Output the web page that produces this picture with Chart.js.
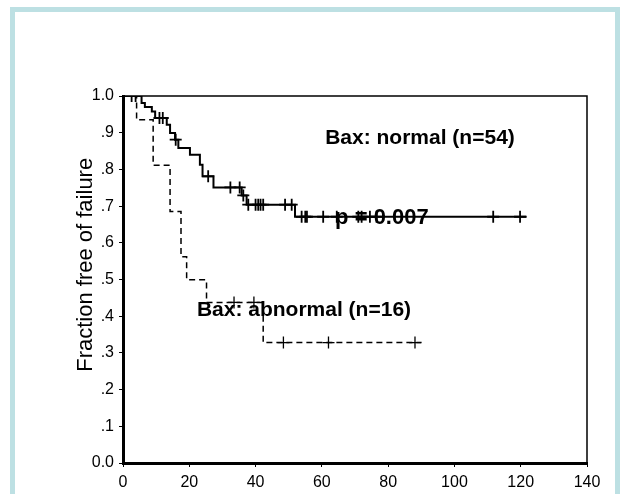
<!DOCTYPE html>
<html>
<head>
<meta charset="utf-8">
<script src="https://cdn.jsdelivr.net/npm/chart.js@4"></script>
<style>
  html, body { margin: 0; padding: 0; background: #fff; }
  #wrap { position: relative; width: 621px; height: 494px; overflow: hidden; }
  #frame { position: absolute; left: 10px; top: 7px; width: 600px; height: 520px;
           border: 5px solid #bde0e3; border-bottom: none; }
  canvas { position: absolute; left: 0; top: 0; }
</style>
</head>
<body>
<div id="wrap">
  <div id="frame"></div>
  <canvas id="chart" width="621" height="494"></canvas>
</div>
<script>
// Bax normal (n=54): step times and survival after each event
const normalTimes = [0, 5.6, 6.6, 8.7, 9.7, 13.2, 14.2, 15.7, 16.7, 20.2, 23.2, 24.0, 27.3, 35.8, 37.3, 51.9, 121.8];
const normalSurv  = [1.0, 0.981, 0.970, 0.958, 0.940, 0.922, 0.899, 0.881, 0.858, 0.840, 0.813, 0.781, 0.751, 0.729, 0.704, 0.671, 0.671];
// censored marks
const normalCensTimes = [2.6, 3.8, 11.0, 12.0, 15.9, 25.7, 32.4, 35.2, 36.3, 37.8, 40.0, 40.8, 41.5, 42.3, 48.9, 50.9, 53.9, 55.0, 55.5, 60.4, 64.5, 71.0, 72.0, 74.5, 76.5, 111.7, 119.8];
const normalCensSurv  = [1.0, 1.0, 0.940, 0.940, 0.881, 0.781, 0.751, 0.751, 0.729, 0.704, 0.704, 0.704, 0.704, 0.704, 0.704, 0.704, 0.671, 0.671, 0.671, 0.671, 0.671, 0.671, 0.671, 0.671, 0.671, 0.671, 0.671];

// Bax abnormal (n=16)
const abnormalTimes = [0, 4.1, 9.1, 14.2, 17.5, 19.2, 25.2, 42.3, 90.1];
const abnormalSurv  = [1.0, 0.935, 0.811, 0.685, 0.562, 0.499, 0.4375, 0.328, 0.328];
const abnormalCensTimes = [33.5, 39.5, 48.4, 62.0, 88.1];
const abnormalCensSurv  = [0.4375, 0.4375, 0.328, 0.328, 0.328];

// text labels: [text, time, fraction, font size]
const labels = [
  ["Bax: normal (n=54)", 61, 0.886, 21],
  ["p = 0.007", 64, 0.668, 22],
  ["Bax: abnormal (n=16)", 22.3, 0.417, 21]
];
const yTitle = "Fraction free of failure";

const FONT = '"Liberation Sans", Arial, sans-serif';

function pts(xs, ys) {
  return xs.map((x, i) => ({ x: x, y: ys[i] }));
}

const frameAndText = {
  id: "frameAndText",
  beforeDatasetsDraw(chart) {
    const { ctx, chartArea, scales } = chart;
    ctx.save();
    ctx.strokeStyle = "#000";
    ctx.lineWidth = 1.5;
    ctx.beginPath();
    ctx.moveTo(chartArea.left, chartArea.top);
    ctx.lineTo(chartArea.right, chartArea.top);
    ctx.lineTo(chartArea.right, chartArea.bottom);
    ctx.stroke();
    // y axis title, sits a bit above the middle in the original
    ctx.translate(scales.y.left + 16, scales.y.getPixelForValue(0.54));
    ctx.rotate(-Math.PI / 2);
    ctx.font = "22px " + FONT;
    ctx.fillStyle = "#000";
    ctx.textAlign = "center";
    ctx.textBaseline = "middle";
    ctx.fillText(yTitle, 0, 0);
    ctx.restore();
  },
  afterDatasetsDraw(chart) {
    const { ctx, scales } = chart;
    ctx.save();
    ctx.fillStyle = "#000";
    ctx.textBaseline = "middle";
    ctx.textAlign = "left";
    labels.forEach(l => {
      ctx.font = "bold " + l[3] + "px " + FONT;
      ctx.fillText(l[0], scales.x.getPixelForValue(l[1]), scales.y.getPixelForValue(l[2]));
    });
    ctx.restore();
  }
};

new Chart(document.getElementById("chart").getContext("2d"), {
  type: "line",
  data: {
    datasets: [
      {
        label: "normal",
        data: pts(normalTimes, normalSurv),
        stepped: true,
        borderColor: "#000",
        borderWidth: 2,
        pointRadius: 0,
        fill: false
      },
      {
        label: "abnormal",
        data: pts(abnormalTimes, abnormalSurv),
        stepped: true,
        borderColor: "#000",
        borderWidth: 1.5,
        borderDash: [6, 4],
        pointRadius: 0,
        fill: false
      },
      {
        label: "normal censored",
        data: pts(normalCensTimes, normalCensSurv),
        showLine: false,
        pointStyle: "cross",
        pointRadius: 6,
        pointBorderWidth: 1.8,
        pointBorderColor: "#000"
      },
      {
        label: "abnormal censored",
        data: pts(abnormalCensTimes, abnormalCensSurv),
        showLine: false,
        pointStyle: "cross",
        pointRadius: 6,
        pointBorderWidth: 1.3,
        pointBorderColor: "#000"
      }
    ]
  },
  options: {
    responsive: false,
    animation: false,
    layout: { padding: { left: 70, top: 96, right: 34, bottom: 0 } },
    plugins: {
      legend: { display: false },
      tooltip: { enabled: false }
    },
    scales: {
      x: {
        type: "linear",
        min: 0,
        max: 140,
        afterFit: s => { s.height = 31; },
        border: { color: "#000", width: 3 },
        grid: { display: true, drawOnChartArea: false, color: "#000", tickLength: 4 },
        ticks: { stepSize: 20, color: "#000", padding: 6, maxRotation: 0, font: { family: FONT, size: 16 } }
      },
      y: {
        min: 0,
        max: 1,
        afterFit: s => { s.width = 53; },
        border: { color: "#000", width: 3 },
        grid: { display: true, drawOnChartArea: false, color: "#000", tickLength: 4 },
        ticks: {
          stepSize: 0.1,
          color: "#000",
          padding: 5,
          font: { family: FONT, size: 16 },
          callback: v => {
            const n = Math.round(v * 10);
            if (n === 0) return "0.0";
            if (n === 10) return "1.0";
            return "." + n;
          }
        }
      }
    }
  },
  plugins: [frameAndText]
});
</script>
</body>
</html>
